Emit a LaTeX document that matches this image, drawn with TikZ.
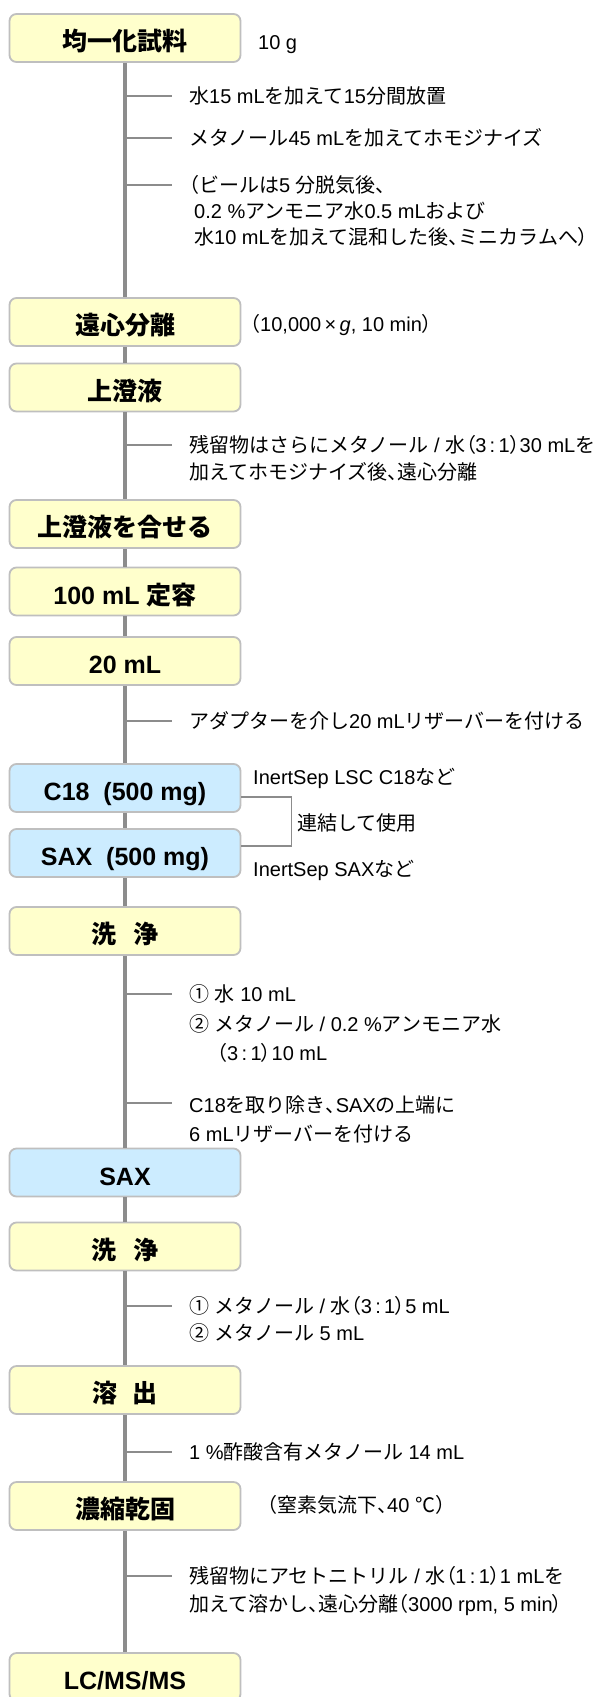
\documentclass[tikz,border=0pt]{standalone}
\usepackage{fontspec}
\setmainfont{Liberation Sans}
\newfontfamily\jpf{Noto Sans CJK JP}
\newfontfamily\jpp{Noto Sans CJK JP}[RawFeature=+palt]
\newcommand\J[1]{{\jpf #1}}
\newcommand\JP[1]{{\jpp #1}}
\definecolor{boxy}{HTML}{FFFFCC}
\definecolor{boxb}{HTML}{CCECFF}
\definecolor{edgegray}{HTML}{BFBFBF}
\definecolor{linegray}{HTML}{8C8C8C}
\tikzset{
  stepbox/.style={draw=edgegray, line width=1.8pt, rounded corners=7pt,
    minimum width=231pt, minimum height=48pt, inner sep=0pt,
    font=\fontsize{25}{30}\selectfont\bfseries, text height=28pt, text depth=3pt, fill=boxy},
  bluebox/.style={stepbox, fill=boxb},
  note/.style={anchor=west, inner sep=0pt, font=\fontsize{20}{24}\selectfont,
    text height=17.6pt, text depth=2.4pt},
  mainline/.style={draw=linegray, line width=4.5pt},
  branch/.style={draw=linegray, line width=1.8pt},
  bracketline/.style={draw=linegray, line width=1.6pt},
}
\begin{document}
\begin{tikzpicture}[x=1pt,y=-1pt]
\useasboundingbox (0,0) rectangle (603,1697);
\clip (0,0) rectangle (603,1697);
\fill[white] (0,0) rectangle (603,1697);

% boxes
\node[stepbox] (b1) at (125,38) {\J{均一化試料}};
\node[stepbox] (b2) at (125,322) {\J{遠心分離}};
\node[stepbox] (b3) at (125,387.5) {\J{上澄液}};
\node[stepbox] (b4) at (125,524) {\J{上澄液を合せる}};
\node[stepbox] (b5) at (125,591.5) {100 mL \J{定容}};
\node[stepbox] (b6) at (125,661) {20 mL};
\node[bluebox] (b7) at (125,788) {C18\ \ (500 mg)};
\node[bluebox] (b8) at (125,853) {SAX\ \ (500 mg)};
\node[stepbox] (b9) at (125,931) {\J{洗}\hspace{0.7em}\J{浄}};
\node[bluebox] (b10) at (125,1172.5) {SAX};
\node[stepbox] (b11) at (125,1246.5) {\J{洗}\hspace{0.7em}\J{浄}};
\node[stepbox] (b12) at (125,1390) {\J{溶}\hspace{0.6em}\J{出}};
\node[stepbox] (b13) at (125,1506) {\J{濃縮乾固}};
\node[stepbox] (b14) at (125,1677) {LC/MS/MS};

% main line
\foreach \a/\b in {b1/b2,b2/b3,b3/b4,b4/b5,b5/b6,b6/b7,b7/b8,b8/b9,b9/b10,b10/b11,b11/b12,b12/b13,b13/b14}
  \draw[mainline] (\a.south) -- (\b.north);

% side notes next to boxes
\node[note] (s1) at (258,42) {10 g};
\node[note] (s2) at (240,324) {\J{（}10,000\,×\,\textit{g}, 10 min\J{）}};
\node[note] (s3) at (253,777) {InertSep LSC C18\J{など}};
\node[note] (s4) at (253,869) {InertSep SAX\J{など}};
\node[note] (s5) at (297,823) {\J{連結して使用}};
\node[note] (s6) at (257,1505) {\J{（窒素気流下}\JP{、}40 \J{℃）}};

% bracket joining the two columns
\coordinate (brA) at ([yshift=-9pt]b7.east);
\coordinate (brB) at ([yshift=7pt]b8.east);
\draw[bracketline] (brA) -- ++(50,0) |- (brB);

% branch coordinates and lines
\foreach \n/\y in {k1/96,k2/138,k3/185,k4/445,k5/721,k6/994,k7/1103,k8/1306,k9/1452,k10/1576}{
  \coordinate (\n a) at (126,\y);
  \coordinate (\n b) at (172,\y);
  \draw[branch] (\n a) -- (\n b);
}

% branch texts
\node[note] (t1) at (189,96) {\J{水}15 mL\J{を加えて}15\J{分間放置}};
\node[note] (t2) at (189,138) {\J{メタノール}45 mL\J{を加えてホモジナイズ}};
\node[note] (t3a) at (179,185) {\J{（ビールは}5 \J{分脱気後、}};
\node[note] (t3b) at (194,211) {0.2 \%\J{アンモニア水}0.5 mL\J{および}};
\node[note] (t3c) at (194,237) {\J{水}10 mL\J{を加えて混和した後}\JP{、}\J{ミニカラムへ}\JP{）}};
\node[note] (t4a) at (189,445) {\J{残留物はさらにメタノール} / \J{水}\JP{（}3\,:\,1\JP{）}30 mL\J{を}};
\node[note] (t4b) at (189,472) {\J{加えてホモジナイズ後}\JP{、}\J{遠心分離}};
\node[note] (t5) at (189,721) {\J{アダプターを介し}20 mL\J{リザーバーを付ける}};
\node[note] (t6a) at (189,994) {\J{①} \J{水} 10 mL};
\node[note] (t6b) at (189,1024) {\J{②} \J{メタノール} / 0.2 \%\J{アンモニア水}};
\node[note] (t6c) at (217,1053) {\JP{（}3\,:\,1\JP{）}10 mL};
\node[note] (t7a) at (189,1105) {C18\J{を取り除き}\JP{、}SAX\J{の上端に}};
\node[note] (t7b) at (189,1134) {6 mL\J{リザーバーを付ける}};
\node[note] (t8a) at (189,1306) {\J{①} \J{メタノール} / \J{水}\JP{（}3\,:\,1\JP{）}5 mL};
\node[note] (t8b) at (189,1333) {\J{②} \J{メタノール} 5 mL};
\node[note] (t9) at (189,1452) {1 \%\J{酢酸含有メタノール} 14 mL};
\node[note] (t10a) at (189,1576) {\J{残留物にアセトニトリル} / \J{水}\JP{（}1\,:\,1\JP{）}1 mL\J{を}};
\node[note] (t10b) at (189,1604) {\J{加えて溶かし}\JP{、}\J{遠心分離}\JP{（}3000 rpm, 5 min\JP{）}};
\end{tikzpicture}
\end{document}
